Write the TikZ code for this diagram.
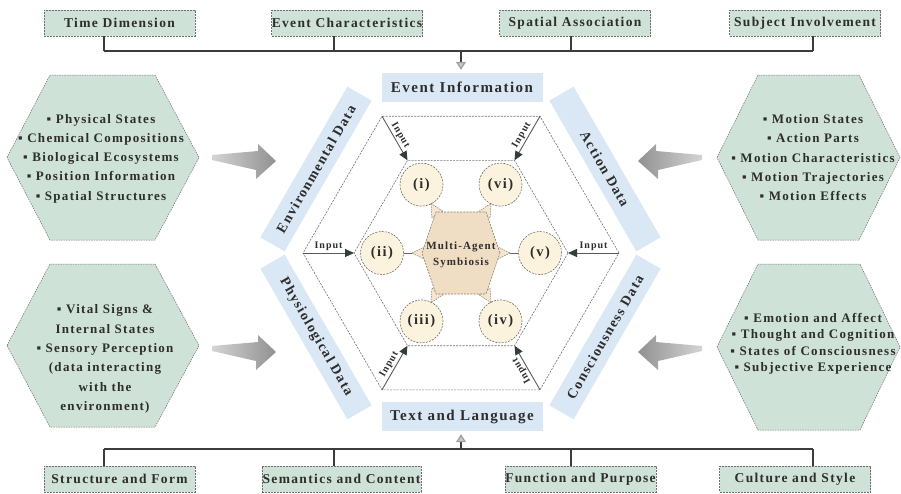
\documentclass[tikz,border=0pt]{standalone}
\usepackage{fontspec}
\setmainfont{Liberation Serif}[LetterSpace=10]
\usetikzlibrary{arrows.meta,calc}
\definecolor{boxgreen}{RGB}{207,226,216}
\definecolor{bandblue}{RGB}{218,232,246}
\definecolor{hextan}{RGB}{240,222,196}
\definecolor{trifill}{RGB}{244,230,208}
\definecolor{tandash}{RGB}{140,125,105}
\definecolor{circcream}{RGB}{252,243,222}
\definecolor{dashgray}{RGB}{110,110,110}
\definecolor{txt}{RGB}{45,45,45}
\definecolor{lineg}{RGB}{60,60,60}
\definecolor{inputhead}{RGB}{50,62,58}
\definecolor{arrowlight}{RGB}{212,212,212}
\definecolor{arrowdark}{RGB}{145,145,145}
\tikzset{
 boxlabel/.style={draw=dashgray, dash pattern=on 2pt off 1pt, line width=0.6pt, fill=boxgreen, minimum width=151pt, minimum height=26pt, inner sep=0pt, text=txt, font=\fontsize{13.5}{15}\selectfont\bfseries},
 band/.style={fill=bandblue, minimum width=174pt, minimum height=28pt, inner sep=0pt, text=txt, font=\fontsize{14}{16}\selectfont\bfseries},
 headbox/.style={fill=bandblue, minimum width=161pt, minimum height=29pt, inner sep=0pt, text=txt, font=\fontsize{15}{17}\selectfont\bfseries},
 conn/.style={draw=lineg, line width=1.2pt},
 sidehex/.style={draw=dashgray, dash pattern=on 1.5pt off 1pt, line width=0.5pt, fill=boxgreen},
 hextext/.style={align=center, inner sep=0pt, text=txt, font=\fontsize{13}{19.3}\selectfont\bfseries},
 ring/.style={draw=dashgray, dash pattern=on 2pt off 1.2pt, line width=0.6pt},
 agent/.style={circle, draw=dashgray, dash pattern=on 2pt off 1.2pt, line width=0.6pt, fill=circcream, minimum size=43pt, inner sep=0pt, text=txt, font=\fontsize{14.5}{16}\selectfont\bfseries},
 corehex/.style={draw=tandash, dash pattern=on 2pt off 1.2pt, line width=0.6pt, fill=hextan},
 tri/.style={draw=tandash, dash pattern=on 1.5pt off 1pt, line width=0.5pt, fill=trifill},
 link/.style={draw=gray!80!black, line width=0.7pt},
 inarrow/.style={draw=gray!70!black, line width=0.9pt, -{Triangle[length=9pt,width=8pt,color=inputhead]}},
 inlabel/.style={inner sep=1.5pt, text=txt, font=\fontsize{10}{12}\selectfont\bfseries},
 downhead/.style={conn, -{Triangle[length=8pt,width=10pt,color=gray!75,fill=gray!45]}, shorten >=3pt},
 bigarrowR/.style={left color=arrowlight, right color=arrowdark},
 bigarrowL/.style={left color=arrowdark, right color=arrowlight},
}
\begin{document}
\begin{tikzpicture}[x=1pt,y=-1pt]
\useasboundingbox (0,0) rectangle (901,493);

% ---------- top boxes ----------
\node[boxlabel] (td) at (119.5,23) {Time Dimension};
\node[boxlabel] (ec) at (347,23) {Event Characteristics};
\node[boxlabel] (sa) at (575,23) {Spatial Association};
\node[boxlabel] (si) at (805,23) {Subject Involvement};
\coordinate (jtd) at (104,51);
\coordinate (jec) at (334,51);
\coordinate (jsa) at (571,51);
\coordinate (jsi) at (813,51);
\coordinate (jei) at (461,51);
\draw[conn] (td.south -| jtd) -- (jtd);
\draw[conn] (ec.south -| jec) -- (jec);
\draw[conn] (sa.south -| jsa) -- (jsa);
\draw[conn] (si.south -| jsi) -- (jsi);
\draw[conn] (jtd) -- (jsi);

\node[headbox] (ei) at (462,87.5) {Event Information};
\draw[downhead] (jei) -- (jei |- ei.north);

% ---------- bottom boxes ----------
\node[boxlabel] (sf) at (119.5,479) {Structure and Form};
\node[boxlabel, minimum width=159pt] (sc) at (341.5,479) {Semantics and Content};
\node[boxlabel] (fp) at (580.5,479) {Function and Purpose};
\node[boxlabel] (cs) at (795,479) {Culture and Style};
\coordinate (ksf) at (104,449);
\coordinate (ksc) at (334,449);
\coordinate (kfp) at (571,449);
\coordinate (kcs) at (813,449);
\coordinate (ktl) at (461,449);
\draw[conn] (sf.north -| ksf) -- (ksf);
\draw[conn] (sc.north -| ksc) -- (ksc);
\draw[conn] (fp.north -| kfp) -- (kfp);
\draw[conn] (cs.north -| kcs) -- (kcs);
\draw[conn] (ksf) -- (kcs);

\node[headbox] (tl) at (462,416.5) {Text and Language};
\draw[downhead] (ktl) -- (ktl |- tl.south);

% ---------- side hexagons ----------
\draw[sidehex] (7,157.5) -- (50,75) -- (155,75) -- (199,157.5) -- (155,240) -- (50,240) -- cycle;
\draw[sidehex] (7,345.5) -- (50,264) -- (155,264) -- (199,345.5) -- (155,427) -- (50,427) -- cycle;
\draw[sidehex] (717,157.5) -- (758,75) -- (859,75) -- (900,157.5) -- (859,240) -- (758,240) -- cycle;
\draw[sidehex] (717,347) -- (758,264) -- (860,264) -- (900,347) -- (860,430) -- (758,430) -- cycle;

\node[hextext] (envtxt) at (101,158.5) {▪ Physical States\\▪ Chemical Compositions\\▪ Biological Ecosystems\\▪ Position Information\\▪ Spatial Structures};
\node[hextext] (phytxt) at (105,359) {▪ Vital Signs \&\\Internal States\\▪ Sensory Perception\\(data interacting\\with the\\environment)};
\node[hextext] (acttxt) at (813,157.7) {▪ Motion States\\▪ Action Parts\\▪ Motion Characteristics\\▪ Motion Trajectories\\▪ Motion Effects};
\node[hextext, font=\fontsize{13}{16.5}\selectfont\bfseries] (contxt) at (813,344) {▪ Emotion and Affect\\▪ Thought and Cognition\\▪ States of Consciousness\\▪ Subjective Experience};

% ---------- big gray arrows ----------
\shade[bigarrowR] (212,155) -- (258,151) -- (258,144) -- (276,161) -- (256,179) -- (256,170) -- (212,160) -- cycle;
\shade[bigarrowR] (212,346) -- (258,342) -- (258,335) -- (276,352) -- (256,370) -- (256,361) -- (212,351) -- cycle;
\shade[bigarrowL] (702,155) -- (656,151) -- (656,144) -- (638,161) -- (658,179) -- (658,170) -- (702,160) -- cycle;
\shade[bigarrowL] (702,346) -- (656,342) -- (656,335) -- (638,352) -- (658,370) -- (658,361) -- (702,351) -- cycle;

% ---------- blue bands ----------
\node[band, rotate=60] (envband) at (316,169) {Environmental Data};
\node[band, rotate=-60] (actband) at (605,169) {Action Data};
\node[band, rotate=-60] (phyband) at (316,337) {Physiological Data};
\node[band, rotate=60] (conband) at (605,337) {Consciousness Data};

% ---------- hexagon frames ----------
\coordinate (o0) at (619,253);
\coordinate (o60) at (540,116.2);
\coordinate (o120) at (382,116.2);
\coordinate (o180) at (303,253);
\coordinate (o240) at (382,389.8);
\coordinate (o300) at (540,389.8);
\coordinate (i0) at (568,253);
\coordinate (i60) at (514.5,160.3);
\coordinate (i120) at (407.5,160.3);
\coordinate (i180) at (354,253);
\coordinate (i240) at (407.5,345.7);
\coordinate (i300) at (514.5,345.7);
\draw[ring] (o0) -- (o60) -- (o120) -- (o180) -- (o240) -- (o300) -- cycle;
\draw[ring] (i0) -- (i60) -- (i120) -- (i180) -- (i240) -- (i300) -- cycle;

% ---------- input arrows ----------
\draw[inarrow] (o180) -- node[inlabel, anchor=south] {Input} (i180);
\draw[inarrow] (o0) -- node[inlabel, anchor=south] {Input} (i0);
\draw[inarrow] (o120) -- node[inlabel, rotate=-60, anchor=south] {Input} (i120);
\draw[inarrow] (o60) -- node[inlabel, rotate=60, anchor=south] {Input} (i60);
\draw[inarrow] (o240) -- node[inlabel, rotate=60, anchor=south] {Input} (i240);
\draw[inarrow] (o300) -- node[inlabel, rotate=120, anchor=south] {Input} (i300);

% ---------- agents ----------
\node[agent] (a1) at (421.5,184.6) {(i)};
\node[agent] (a2) at (382,253) {(ii)};
\node[agent] (a3) at (421.5,321.4) {(iii)};
\node[agent] (a4) at (500.5,321.4) {(iv)};
\node[agent] (a5) at (540,253) {(v)};
\node[agent] (a6) at (500.5,184.6) {(vi)};

% ---------- core hexagon ----------
\coordinate (hx0) at (500,253);
\coordinate (hx60) at (486,212);
\coordinate (hx120) at (436,212);
\coordinate (hx180) at (422,253);
\coordinate (hx240) at (436,294);
\coordinate (hx300) at (486,294);
\foreach \a/\c in {0/a5, 60/a6, 120/a1, 180/a2, 240/a3, 300/a4} {
  \begin{scope}[shift={(hx\a)}, rotate=\a]
    \draw[tri] (10,0) -- (-3,6.5) -- (-3,-6.5) -- cycle;
    \coordinate (ap\a) at (10,0);
  \end{scope}
  \draw[link] (ap\a) -- (\c);
}
\draw[corehex] (hx0) -- (hx60) -- (hx120) -- (hx180) -- (hx240) -- (hx300) -- cycle;
\node[inner sep=0pt, align=center, text=txt, font=\fontsize{11}{16}\selectfont\bfseries] (mas) at (461,255) {Multi-Agent\\Symbiosis};
\end{tikzpicture}
\end{document}
